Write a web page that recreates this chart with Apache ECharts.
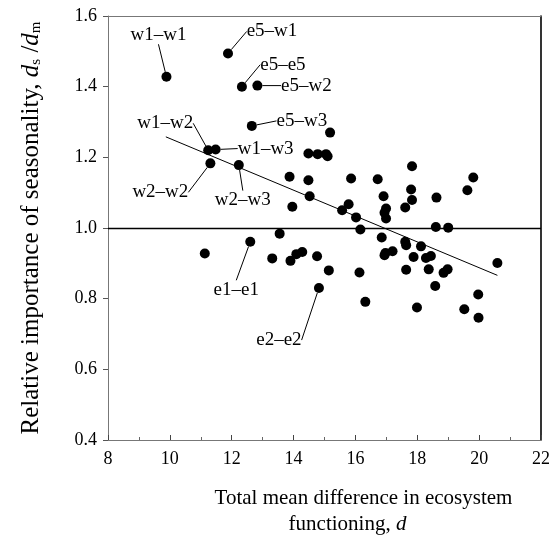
<!DOCTYPE html>
<html><head><meta charset="utf-8">
<script src="https://cdn.jsdelivr.net/npm/echarts@6/dist/echarts.min.js"></script>
<style>html,body{margin:0;padding:0;background:#fff}#c{width:555px;height:550px}</style>
</head><body><div id="c"></div>
<script>
// ---- data ----
const xValues = [9.89,11.88,12.33,12.83,12.65,15.18,11.24,11.48,11.31,12.23,
  14.48,14.78,15.05,15.10,13.87,14.48,14.52,11.13,12.60,13.55,
  13.31,13.90,14.09,14.28,14.76,15.14,14.82,13.96,15.86,16.72,
  17.83,19.81,19.62,17.80,17.83,17.61,18.62,16.91,16.99,16.94,
  16.99,15.78,15.57,16.02,16.16,18.60,19.00,16.85,17.61,17.64,
  18.12,16.94,16.97,17.20,17.88,18.28,18.44,17.64,18.37,18.85,
  18.98,16.13,20.59,18.58,16.32,17.99,19.97,19.52,19.98];
const yValues = [1.428,1.494,1.400,1.403,1.289,1.270,1.220,1.222,1.183,1.178,
  1.211,1.209,1.209,1.203,1.145,1.135,1.090,0.928,0.961,0.984,
  0.914,0.907,0.926,0.932,0.920,0.880,0.830,1.060,1.140,1.138,
  1.175,1.143,1.107,1.109,1.079,1.058,1.086,1.090,1.055,1.043,
  1.027,1.067,1.050,1.030,0.996,1.003,1.001,0.973,0.961,0.951,
  0.948,0.923,0.929,0.934,0.918,0.915,0.921,0.882,0.883,0.873,
  0.883,0.874,0.901,0.836,0.791,0.775,0.812,0.770,0.746];
const pointLabels = {0:'w1–w1',1:'e5–w1',2:'e5–e5',3:'e5–w2',4:'e5–w3',
  6:'w1–w2',7:'w1–w3',8:'w2–w2',9:'w2–w3',18:'e1–e1',26:'e2–e2'};
const fitX = [9.87, 20.59];
const fitY = [1.258, 0.866];
const refValue = 1.0;
const xTicks = {min: 8, max: 22, interval: 2};
const yTicks = {min: 0.4, max: 1.6, interval: 0.2};

// ---- layout (label offsets in px, not data) ----
const labelShift = {0:[-8,-42],1:[44,-22],2:[41,-22],3:[49,0],4:[50,-5],
  6:[-43,-27],7:[50,-1],8:[-50,29],9:[4,35],18:[-14,48],26:[-40,52]};

const FONT = '"Liberation Serif","Times New Roman",serif';
const pts = xValues.map((x,i)=>{
  const d = {value:[x, yValues[i]]};
  if (pointLabels[i] !== undefined) {
    d.label = {show:true, formatter: pointLabels[i]};
    d.labelLine = {show:true};
  }
  return d;
});

const chart = echarts.init(document.getElementById('c'));
chart.setOption({
  animation:false,
  textStyle:{fontFamily:FONT},
  grid:{left:108,right:14,top:16,bottom:110},
  xAxis:[{
    type:'value', min:xTicks.min, max:xTicks.max, interval:xTicks.interval,
    axisLine:{show:true,onZero:false,lineStyle:{color:'#777',width:1}},
    axisTick:{show:true,inside:true,length:5,lineStyle:{color:'#444'}},
    minorTick:{show:true,splitNumber:2,length:3,lineStyle:{color:'#666'}},
    splitLine:{show:false},
    axisLabel:{color:'#000',fontSize:18,fontFamily:FONT,margin:10},
    name:'{n|Total mean difference in ecosystem}\n{n|functioning, }{i|d}{g|}',
    nameLocation:'middle', nameGap:45,
    nameTextStyle:{padding:[0,0,0,78],
      rich:{n:{fontSize:21,fontFamily:FONT,color:'#000',lineHeight:26},
            i:{fontSize:21,fontFamily:FONT,fontStyle:'italic',color:'#000',lineHeight:26},
            g:{width:32,lineHeight:26}}}
  },{
    type:'value', position:'top', min:xTicks.min, max:xTicks.max,
    axisLine:{show:true,lineStyle:{color:'#777',width:1}},
    axisTick:{show:false},axisLabel:{show:false},splitLine:{show:false}
  }],
  yAxis:[{
    type:'value', min:yTicks.min, max:yTicks.max, interval:yTicks.interval,
    axisLine:{show:true,onZero:false,lineStyle:{color:'#777',width:1}},
    axisTick:{show:true,inside:false,length:5,lineStyle:{color:'#555'}},
    splitLine:{show:false},
    axisLabel:{color:'#000',fontSize:18,fontFamily:FONT,margin:11,
      formatter:v=>v.toFixed(1)},
    name:'{n|Relative importance of seasonality, }{i|d}{s|s}{n| /}{i|d}{s|m}',
    nameLocation:'middle', nameGap:64,
    nameTextStyle:{rich:{
      n:{fontSize:25,fontFamily:FONT,color:'#000'},
      i:{fontSize:25,fontFamily:FONT,fontStyle:'italic',color:'#000'},
      s:{fontSize:15,fontFamily:FONT,color:'#000',padding:[10,0,0,0]}}}
  },{
    type:'value', position:'right', min:yTicks.min, max:yTicks.max,
    axisLine:{show:true,lineStyle:{color:'#000',width:1.6}},
    axisTick:{show:false},axisLabel:{show:false},splitLine:{show:false}
  }],
  series:[{
    type:'line', data:fitX.map((x,i)=>[x,fitY[i]]), symbol:'none',
    lineStyle:{color:'#000',width:1}, z:1, silent:true
  },{
    type:'scatter', data:pts, symbol:'circle', symbolSize:10,
    itemStyle:{color:'#000',opacity:1}, z:3,
    label:{show:false, position:'inside', color:'#000', fontSize:19, fontFamily:FONT},
    labelLine:{show:false, lineStyle:{color:'#000',width:1}},
    labelLayout: function(p){
      const s = labelShift[p.dataIndex];
      if(!s) return {};
      return {dx:s[0], dy:s[1]};
    },
    markLine:{silent:true, symbol:'none', label:{show:false},
      lineStyle:{color:'#000',width:1.4,type:'solid'},
      data:[{yAxis:refValue}]}
  }]
});
</script></body></html>
